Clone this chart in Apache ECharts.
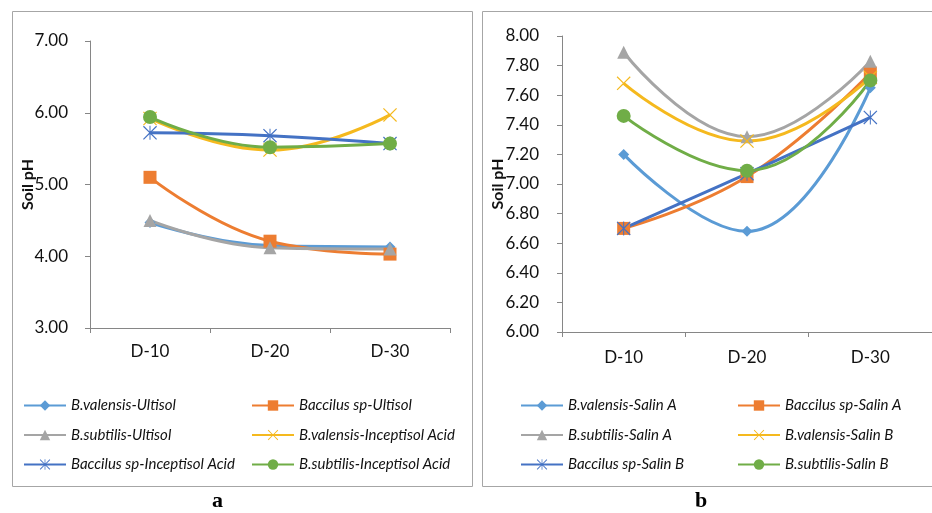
<!DOCTYPE html>
<html>
<head>
<meta charset="utf-8">
<script src="https://cdn.jsdelivr.net/npm/echarts@6/dist/echarts.min.js"></script>
<style>html,body{margin:0;padding:0;background:#fff;}#c{width:932px;height:513px;}</style>
</head>
<body>
<div id="c"></div>
<script>
// ---- data ----
var categories = ['D-10', 'D-20', 'D-30'];

var namesA = ['B.valensis-Ultisol', 'Baccilus sp-Ultisol', 'B.subtilis-Ultisol',
              'B.valensis-Inceptisol Acid', 'Baccilus sp-Inceptisol Acid', 'B.subtilis-Inceptisol Acid'];
var valensisUltisol   = [4.47, 4.15, 4.13];
var baccilusUltisol   = [5.10, 4.21, 4.03];
var subtilisUltisol   = [4.50, 4.12, 4.10];
var valensisIncept    = [5.92, 5.48, 5.97];
var baccilusIncept    = [5.72, 5.68, 5.57];
var subtilisIncept    = [5.94, 5.52, 5.57];

var namesB = ['B.valensis-Salin A', 'Baccilus sp-Salin A', 'B.subtilis-Salin A',
              'B.valensis-Salin B', 'Baccilus sp-Salin B', 'B.subtilis-Salin B'];
var valensisSalinA = [7.20, 6.68, 7.65];
var baccilusSalinA = [6.70, 7.05, 7.75];
var subtilisSalinA = [7.89, 7.32, 7.83];
var valensisSalinB = [7.68, 7.29, 7.72];
var baccilusSalinB = [6.70, 7.07, 7.45];
var subtilisSalinB = [7.46, 7.09, 7.70];

var yTicksA = [3, 4, 5, 6, 7];
var yTicksB = [6.0, 6.2, 6.4, 6.6, 6.8, 7.0, 7.2, 7.4, 7.6, 7.8, 8.0];

// ---- styling ----
var colors = ['#5B9BD5', '#ED7D31', '#A5A5A5', '#F5B91E', '#4472C4', '#70AD47'];
var xPath = 'path://M0,1.2L1.2,0L10,8.8L18.8,0L20,1.2L11.2,10L20,18.8L18.8,20L10,11.2L1.2,20L0,18.8L8.8,10Z';
var starPath = 'path://M0,1.2L1.2,0L10,8.8L18.8,0L20,1.2L11.2,10L20,18.8L18.8,20L10,11.2L1.2,20L0,18.8L8.8,10Z M9.3,0L10.7,0L10.7,20L9.3,20Z';
var symbols = ['diamond', 'rect', 'triangle', xPath, starPath, 'circle'];
var symSizes = [11, 13, 13, 14, 14, 14];

var txt = '#111';
var axisCol = '#868686';
var font = 'Lato';

function mkSeries(names, datas, axisIdx) {
  return datas.map(function (d, i) {
    return {
      name: names[i], type: 'line', data: d,
      xAxisIndex: axisIdx, yAxisIndex: axisIdx,
      smooth: 0.45,
      symbol: symbols[i], symbolSize: symSizes[i], symbolKeepAspect: false,
      itemStyle: { color: colors[i] },
      lineStyle: { color: colors[i], width: 3 },
      emphasis: { disabled: true },
      animation: false
    };
  });
}

function xAxis(idx) {
  return {
    type: 'category', data: categories, gridIndex: idx, boundaryGap: true,
    axisLine: { show: true, lineStyle: { color: axisCol, width: 1 } },
    axisTick: { show: true, length: 5, lineStyle: { color: axisCol } },
    axisLabel: { color: txt, fontFamily: font, fontSize: 17, margin: idx === 0 ? 15 : 17 },
    splitLine: { show: false }
  };
}

function yAxis(idx, min, max, interval, gap, margin) {
  return {
    type: 'value', gridIndex: idx, min: min, max: max, interval: interval,
    name: 'Soil pH', nameLocation: 'middle', nameRotate: 90, nameGap: gap,
    nameMoveOverlap: false,
    nameTextStyle: { color: txt, fontFamily: font, fontWeight: 'bold', fontSize: 16 },
    axisLine: { show: true, lineStyle: { color: axisCol, width: 1 } },
    axisTick: { show: true, length: 5, inside: false, lineStyle: { color: axisCol } },
    axisLabel: { color: txt, fontFamily: font, fontSize: 17, margin: margin,
      formatter: function (v) { return v.toFixed(2); } },
    splitLine: { show: false }
  };
}

function legend(names, left, top) {
  return {
    data: names, orient: 'vertical', left: left, top: top,
    itemWidth: 42, itemHeight: 13, itemGap: 14.5, padding: 0,
    selectedMode: false,
    textStyle: { color: txt, fontFamily: font, fontStyle: 'italic', fontSize: 15, padding: [0, 0, 0, 0] }
  };
}

var option = {
  animation: false,
  backgroundColor: '#fff',
  grid: [
    { left: 90, top: 41, width: 360, height: 287 },
    { left: 562, top: 36, width: 375, height: 296 }
  ],
  xAxis: [xAxis(0), xAxis(1)],
  yAxis: [
    yAxis(0, yTicksA[0], yTicksA[yTicksA.length - 1], 1, 54, 22),
    yAxis(1, yTicksB[0], yTicksB[yTicksB.length - 1], 0.2, 56, 23)
  ],
  legend: [
    legend([namesA[0], namesA[2], namesA[4]], 23, 398),
    legend([namesA[1], namesA[3], namesA[5]], 251, 398),
    legend([namesB[0], namesB[2], namesB[4]], 520, 398),
    legend([namesB[1], namesB[3], namesB[5]], 737, 398)
  ],
  series: mkSeries(namesA, [valensisUltisol, baccilusUltisol, subtilisUltisol, valensisIncept, baccilusIncept, subtilisIncept], 0)
    .concat(mkSeries(namesB, [valensisSalinA, baccilusSalinA, subtilisSalinA, valensisSalinB, baccilusSalinB, subtilisSalinB], 1)),
  graphic: [
    { type: 'rect', shape: { x: 12.5, y: 11.5, width: 460, height: 475 }, style: { fill: 'none', stroke: '#a6a6a6', lineWidth: 1 }, silent: true, z: -1 },
    { type: 'rect', shape: { x: 482.5, y: 11.5, width: 470, height: 475 }, style: { fill: 'none', stroke: '#a6a6a6', lineWidth: 1 }, silent: true, z: -1 },
    { type: 'text', left: 212, top: 490, style: { text: 'a', font: 'bold 22px "Liberation Serif"', fill: '#000' } },
    { type: 'text', left: 695, top: 490, style: { text: 'b', font: 'bold 22px "Liberation Serif"', fill: '#000' } }
  ]
};

var chart = echarts.init(document.getElementById('c'), null, { renderer: 'canvas' });
chart.setOption(option);
</script>
</body>
</html>
